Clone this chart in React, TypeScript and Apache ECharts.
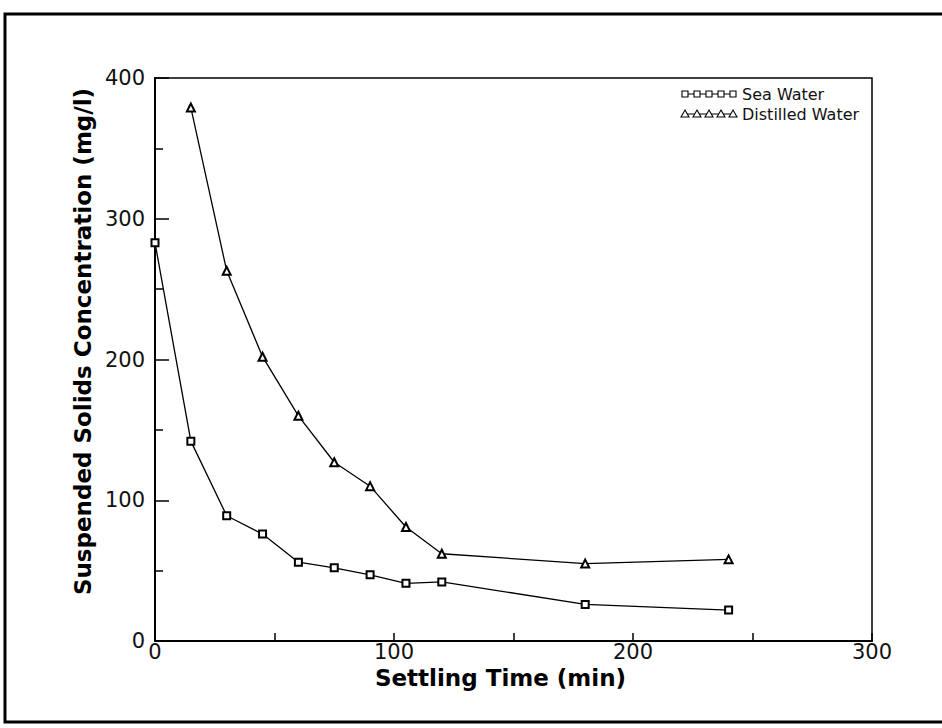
import React, { useEffect, useRef } from "react";
import * as echarts from "echarts";

const seaTime = [0, 15, 30, 45, 60, 75, 90, 105, 120, 180, 240];
const seaConc = [283, 142, 89, 76, 56, 52, 47, 41, 42, 26, 22];
const distTime = [15, 30, 45, 60, 75, 90, 105, 120, 180, 240];
const distConc = [379, 263, 202, 160, 127, 110, 81, 62, 55, 58];
const seriesNames = ["Sea Water", "Distilled Water"];
const xTitle = "Settling Time (min)";
const yTitle = "Suspended Solids Concentration (mg/l)";

const FONT = "DejaVu Sans";

function legendMarks(y: number, kind: "rect" | "tri") {
  const xs = [685, 697, 709, 721, 733];
  const els: any[] = [
    { type: "line", shape: { x1: xs[0], y1: y, x2: xs[4], y2: y }, style: { stroke: "#000", lineWidth: 1.2 } },
  ];
  xs.forEach((cx) => {
    if (kind === "rect") {
      els.push({ type: "rect", shape: { x: cx - 3, y: y - 3, width: 6, height: 6 }, style: { fill: "#fff", stroke: "#000", lineWidth: 1.1 } });
    } else {
      els.push({ type: "polygon", shape: { points: [[cx, y - 4], [cx + 4, y + 3], [cx - 4, y + 3]] }, style: { fill: "#fff", stroke: "#000", lineWidth: 1.1 } });
    }
  });
  return els;
}

export default function App() {
  const ref = useRef<HTMLDivElement>(null);
  useEffect(() => {
    if (!ref.current) return;
    const chart = echarts.init(ref.current, null, { renderer: "svg" });
    const axisLabel = { fontFamily: FONT, fontSize: 21, color: "#111" };
    chart.setOption({
      animation: false,
      backgroundColor: "#fff",
      grid: { left: 155, right: 70, top: 78, bottom: 87, show: true, borderColor: "#000", borderWidth: 1.5, backgroundColor: "transparent" },
      xAxis: {
        type: "value",
        min: 0,
        max: 300,
        interval: 100,
        name: xTitle,
        nameLocation: "middle",
        nameGap: 25,
        nameTextStyle: { fontFamily: FONT, fontWeight: "bold", fontSize: 23, color: "#000", padding: [0, 26, 0, 0] },
        axisLine: { show: true, onZero: false, lineStyle: { color: "#000", width: 2 } },
        axisTick: { show: true, inside: true, length: 8, lineStyle: { color: "#000", width: 1.5 } },
        minorTick: { show: true, splitNumber: 2, length: 8, lineStyle: { color: "#000", width: 1.5 } },
        splitLine: { show: false },
        axisLabel: { ...axisLabel, margin: 0 },
      },
      yAxis: {
        type: "value",
        min: 0,
        max: 400,
        interval: 100,
        name: yTitle,
        nameLocation: "middle",
        nameGap: 60,
        nameTextStyle: { fontFamily: FONT, fontWeight: "bold", fontSize: 23, color: "#000", padding: [0, 0, 0, 36] },
        axisLine: { show: true, onZero: false, lineStyle: { color: "#000", width: 2 } },
        axisTick: { show: true, inside: true, length: 14, lineStyle: { color: "#000", width: 1.5 } },
        minorTick: { show: true, splitNumber: 2, length: 8, lineStyle: { color: "#000", width: 1.5 } },
        splitLine: { show: false },
        axisLabel: { ...axisLabel, margin: 10 },
      },
      legend: { show: false },
      series: [
        {
          name: seriesNames[0],
          type: "line",
          data: seaTime.map((t, i) => [t, seaConc[i]]),
          symbol: "emptyRect",
          symbolSize: 7,
          lineStyle: { color: "#000", width: 1.3 },
          itemStyle: { color: "#000", borderWidth: 1.2 },
        },
        {
          name: seriesNames[1],
          type: "line",
          data: distTime.map((t, i) => [t, distConc[i]]),
          symbol: "emptyTriangle",
          symbolSize: 8,
          lineStyle: { color: "#000", width: 1.3 },
          itemStyle: { color: "#000", borderWidth: 1.2 },
        },
      ],
      graphic: [
        { type: "rect", shape: { x: 5, y: 14, width: 960, height: 708 }, style: { fill: "none", stroke: "#000", lineWidth: 3 }, silent: true },
        ...legendMarks(94, "rect"),
        { type: "text", x: 742, y: 94, style: { text: seriesNames[0], font: `16px '${FONT}'`, fill: "#111", verticalAlign: "middle" } },
        ...legendMarks(114, "tri"),
        { type: "text", x: 742, y: 114, style: { text: seriesNames[1], font: `16px '${FONT}'`, fill: "#111", verticalAlign: "middle" } },
      ],
    });
    return () => chart.dispose();
  }, []);
  return <div ref={ref} style={{ width: 942, height: 728, position: "absolute", left: 0, top: 0 }} />;
}
